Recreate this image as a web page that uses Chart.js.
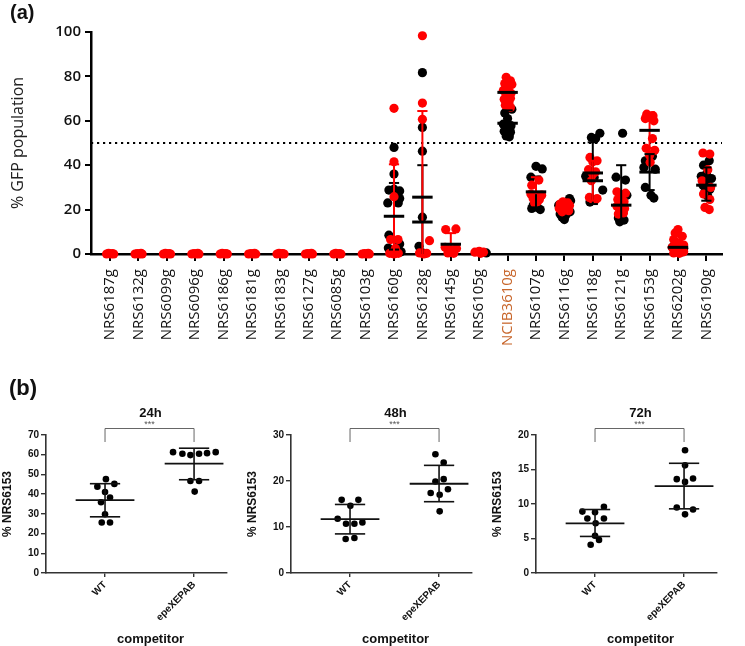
<!DOCTYPE html>
<html>
<head>
<meta charset="utf-8">
<script src="https://cdn.jsdelivr.net/npm/chart.js@4.4.1/dist/chart.umd.min.js"></script>
<style>
  html, body { margin: 0; padding: 0; background: #fff; }
  #wrap { position: relative; width: 745px; height: 646px; overflow: hidden; }
  .tag { position: absolute; font: bold 20px "Liberation Sans", Arial, sans-serif; color: #111; }
  canvas { position: absolute; }
</style>
</head>
<body>
<div id="wrap">
  <canvas id="cTop" width="745" height="375" style="left:0;top:0"></canvas>
  <canvas id="c24" width="245" height="256" style="left:0;top:390px"></canvas>
  <canvas id="c48" width="245" height="256" style="left:245px;top:390px"></canvas>
  <canvas id="c72" width="255" height="256" style="left:490px;top:390px"></canvas>
  <div class="tag" style="left:10px;top:1px">(a)</div>
  <div class="tag" style="left:9px;top:375px;font-size:22px">(b)</div>
</div>
<script>
// ---- (a) GFP population per strain ----
const strains = ['NRS6187g','NRS6132g','NRS6099g','NRS6096g','NRS6186g','NRS6181g','NRS6183g',
  'NRS6127g','NRS6085g','NRS6103g','NRS6160g','NRS6128g','NRS6145g','NRS6105g','NCIB3610g',
  'NRS6107g','NRS6116g','NRS6118g','NRS6121g','NRS6153g','NRS6202g','NRS6190g'];
const refStrain = 'NCIB3610g';
const gfpTicks = [0, 20, 40, 60, 80, 100];
const cutoff = 50;

// dots: [jitter, % GFP]
const redDots = [
  [[-0.12,0],[-0.05,0.3],[0.02,0],[0.08,0.2],[0.13,0]],
  [[-0.12,0],[-0.04,0.2],[0.03,0],[0.09,0.3],[0.13,0]],
  [[-0.12,0],[-0.05,0.3],[0.02,0],[0.08,0.2],[0.13,0]],
  [[-0.12,0],[-0.04,0.2],[0.03,0],[0.09,0.3],[0.13,0]],
  [[-0.12,0],[-0.05,0.3],[0.02,0],[0.08,0.2],[0.13,0]],
  [[-0.12,0],[-0.04,0.2],[0.03,0],[0.09,0.3],[0.13,0]],
  [[-0.12,0],[-0.05,0.3],[0.02,0],[0.08,0.2],[0.13,0]],
  [[-0.12,0],[-0.04,0.2],[0.03,0],[0.09,0.3],[0.13,0]],
  [[-0.12,0],[-0.05,0.3],[0.02,0],[0.08,0.2],[0.13,0]],
  [[-0.12,0],[-0.04,0.2],[0.03,0],[0.09,0.3],[0.13,0]],
  [[0,65.6],[0,41.5],[0,25.8],[-0.12,6.5],[0.14,6.5],[0.05,2.5],[-0.15,0.3],[0,0],[0.15,0.3]],
  [[0,98.3],[0,68],[0,60.7],[0.25,6],[-0.1,0.5],[0.05,0],[0.15,0.3]],
  [[-0.18,11],[0.18,11.3],[-0.2,3],[0,2],[0.2,2.5],[-0.1,0.5],[0.1,0.3]],
  [[-0.15,0.8],[0,1.2],[0.15,0.8],[0.05,0.3]],
  [[-0.05,79.6],[0.1,78],[-0.1,76.8],[0.15,76.4],[0.02,75],[-0.15,73.7],[0.12,72.4],[-0.05,71.5],
   [0.1,70.2],[-0.12,69.7],[0.05,68],[-0.08,67],[0.1,66]],
  [[0.1,33.3],[-0.15,31],[-0.18,27],[0.2,26.5],[0,26],[-0.1,25],[0.12,24.5],[0.05,23.5],[-0.05,23]],
  [[-0.05,23.5],[0.12,23],[-0.15,22.5],[0.05,22],[0.18,21.8],[-0.1,21.5],[0.1,21],[-0.18,20.5],
   [0,20],[0.15,19.5],[-0.08,19]],
  [[-0.1,43.5],[0.15,42],[0,41.5],[-0.15,38],[0.1,37],[0,36],[-0.05,33],[-0.12,25.5],[0.15,25],
   [0,24.5],[0.08,24.3]],
  [[-0.15,28],[0.15,27.4],[0,25.6],[-0.12,24.5],[0.1,23.5],[0,22.5],[-0.15,21.5],[0.12,20.5],
   [-0.05,19.5],[0.08,18.5],[-0.1,18]],
  [[-0.1,63],[0.12,62.3],[0,61.5],[-0.15,61],[0.15,60],[0.1,52],[-0.12,47.6],[0.18,46.7],[0,44.5],[0.02,41.3]],
  [[0,11],[-0.1,9.5],[0.15,8],[-0.15,6.5],[0.05,5],[0.2,4],[-0.2,3],[0.1,2],[-0.05,1.5],[0.2,1],
   [-0.15,0.5],[0.05,0.3]],
  [[-0.12,45.5],[0.12,45],[0.05,38],[-0.15,33],[0.15,30],[-0.1,27],[0.12,24.5],[-0.05,21],[0.1,20]]
];
const blackDots = [
  [],[],[],[],[],[],[],[],[],[],
  [[0,48],[0,36],[-0.18,28.8],[0,29.2],[0.2,28.4],[0.2,25],[-0.22,23],[0.15,23],[-0.18,8.5],
   [0.2,4.5],[-0.2,2.7],[0.25,1]],
  [[0,81.7],[0,57],[0,46.3],[0,16.6],[-0.12,3.5],[0,0.5]],
  [],
  [[0.25,0.5]],
  [[0.15,65.2],[-0.1,63.5],[0,61],[-0.15,58.5],[0.12,57.8],[-0.05,57],[0.08,56],[-0.12,55.3],
   [0.1,54.8],[0,54],[-0.05,53.2],[0.06,52.8]],
  [[0,39.5],[0.22,38.3],[-0.18,34.6],[-0.1,22],[0.05,21],[-0.15,20.5],[0.15,20]],
  [[0.18,25],[0.22,24],[-0.2,22],[0.2,19],[-0.15,18],[0.05,17.5],[-0.08,16.5],[0,15.5]],
  [[0.25,54.4],[-0.05,52.5],[0.1,52],[-0.25,35],[0.05,34.5],[0.35,28.8],[-0.1,23.4]],
  [[0.05,54.4],[-0.18,34.6],[0.15,33.3],[0.2,26.5],[-0.1,16.2],[0.1,15.3],[-0.05,14.5]],
  [[0.1,44],[-0.15,42],[-0.2,39],[0.2,38.2],[-0.15,30],[0.05,26.5],[0.15,25.2]],
  [[-0.1,5],[0.1,4],[0,3.5],[-0.2,3],[0.2,2.5],[0.05,2],[-0.1,1.5],[0.15,1]],
  [[0.1,42],[-0.1,40],[0,36],[-0.18,35],[0.18,34],[0,32],[-0.12,31],[0.12,29],[-0.05,28],[0.05,26]]
];
// mean and error-bar ends as drawn
const _ = null;
const redMean  = [_,_,_,_,_,_,_,_,_,_, 17, 25.6, 4.4, _, 72.8, 28, _, 33, 22, 55.7, _, _];
const redLo    = [_,_,_,_,_,_,_,_,_,_, 0, 0, 0, _, _, 27.4, _, 24, _, 47.7, _, _];
const redHi    = [_,_,_,_,_,_,_,_,_,_, 40.4, 64.4, 9.4, _, _, 34.6, _, 42, _, 63.8, _, _];
const blackMean = [_,_,_,_,_,_,_,_,_,_, _, 14.4, _, _, 58.9, _, _, 36.5, _, 36.9, 3, 31];
const blackLo   = [_,_,_,_,_,_,_,_,_,_, 2, 0, _, _, 53, 21, _, 22.5, 14.5, 28.8, _, 24];
const blackHi   = [_,_,_,_,_,_,_,_,_,_, 32, 40, _, _, 64.7, 34.9, _, 50.3, 40, 45, _, 39];

// ---- (b) competition assays ----
const competitors = ['WT', 'epeXEPAB'];
const timepoints = ['24h', '48h', '72h'];
const wtDots = [
  [[0.01,47.6],[0.105,45.2],[-0.086,43.8],[0,41.1],[0.056,38.3],[-0.045,35.9],[0,29.8],[-0.037,25.6],[0.056,25.6]],
  [[-0.094,15.9],[0.094,15.9],[0.004,14.6],[-0.139,11.8],[-0.045,10.7],[0.049,10.7],[0.139,11.0],[-0.049,7.4],[0.049,7.6]],
  [[0.1,9.6],[-0.142,8.9],[0,8.8],[-0.086,7.9],[0.1,7.9],[0.007,7.2],[0,5.4],[0.045,4.8],[-0.049,4.1]]
];
const epeDots = [
  [[-0.236,61.3],[-0.131,60.5],[-0.041,59.8],[0.056,60.5],[0.146,60.8],[0.243,61.3],[-0.041,46.7],[0.056,46.7],[0.007,41.3]],
  [[-0.041,25.8],[0.052,24.0],[-0.041,19.9],[0.052,20.4],[0.1,18.2],[-0.094,17.4],[0.007,17.0],[0.007,13.4]],
  [[0.011,17.8],[0.011,15.6],[-0.082,13.6],[0.101,13.7],[0.011,13.2],[-0.082,9.5],[0.101,9.2],[0.011,8.5]]
];
const wtMean = [37, 11.7, 7.2],   wtLo = [28.5, 8.5, 5.3],   wtHi = [45.3, 14.9, 9.2];
const epeMean = [55.5, 19.4, 12.6], epeLo = [47.3, 15.5, 9.3], epeHi = [63.3, 23.4, 15.9];
const yMaxB = [70, 30, 20];
const yStepB = [10, 10, 5];
const signif = ['***', '***', '***'];

// mean bar + SD whiskers
const errorBars = {
  id: 'errorBars',
  afterDatasetsDraw(chart, args, o) {
    if (!o.pos) return;
    const { ctx, scales: { x, y } } = chart;
    const px = v => x.getPixelForValue(v);
    const py = v => y.getPixelForValue(Math.max(v, y.min));
    const line = (x0, y0, x1, y1) => { ctx.beginPath(); ctx.moveTo(x0, y0); ctx.lineTo(x1, y1); ctx.stroke(); };
    ctx.save();
    o.whiskers.forEach(w => {
      ctx.strokeStyle = w.color; ctx.lineWidth = o.lineWidth;
      o.pos.forEach((p, i) => {
        if (w.lo[i] == null || w.hi[i] == null) return;
        const top = py(w.hi[i]), bot = py(w.lo[i]);
        line(px(p), top, px(p), bot);
        line(px(p - o.cap), top, px(p + o.cap), top);
        if (w.lo[i] > y.min) line(px(p - o.cap), bot, px(p + o.cap), bot);
      });
    });
    ctx.strokeStyle = o.barColor; ctx.lineWidth = o.barWidth;
    o.means.forEach(m => o.pos.forEach((p, i) => {
      if (m[i] == null) return;
      line(px(p - o.bar), py(m[i]), px(p + o.bar), py(m[i]));
    }));
    ctx.restore();
  }
};

// title, significance bracket and x title for the (b) panels
const annot = {
  id: 'annot',
  afterDraw(chart, args, o) {
    if (!o.title) return;
    const { ctx, chartArea: a, scales: { x } } = chart;
    const x1 = x.getPixelForValue(1), x2 = x.getPixelForValue(2), cx = (x1 + x2) / 2;
    ctx.save();
    ctx.fillStyle = '#111';
    ctx.textAlign = 'center'; ctx.textBaseline = 'middle';
    ctx.font = 'bold 13px "Liberation Sans", Arial, sans-serif';
    ctx.fillText(o.title, cx + 1, a.top - 22);
    ctx.strokeStyle = '#666'; ctx.lineWidth = 1;
    ctx.beginPath();
    ctx.moveTo(x1, a.top + 7); ctx.lineTo(x1, a.top - 6.5); ctx.lineTo(x2, a.top - 6.5); ctx.lineTo(x2, a.top + 7);
    ctx.stroke();
    ctx.fillStyle = '#555';
    ctx.font = '9px "Liberation Sans", Arial, sans-serif';
    ctx.fillText(o.sig, cx, a.top - 10);
    ctx.fillStyle = '#111';
    ctx.font = 'bold 13px "Liberation Sans", Arial, sans-serif';
    ctx.fillText(o.xTitle, cx + 1, chart.height - 7);
    ctx.restore();
  }
};
Chart.register(errorBars, annot);

const toPts = groups => groups.flatMap((g, i) => g.map(([dx, v]) => ({ x: i + dx, y: v })));

// ---- top chart ----
const xMinA = -0.67, xMaxA = 21.55;
new Chart(document.getElementById('cTop'), {
  type: 'scatter',
  data: {
    datasets: [
      { data: toPts(redDots), backgroundColor: '#ff0000', pointRadius: 4.6, borderWidth: 0, clip: false },
      { data: toPts(blackDots), backgroundColor: '#000', pointRadius: 4.6, borderWidth: 0, clip: false },
      { type: 'line', data: [{ x: xMinA, y: cutoff }, { x: xMaxA, y: cutoff }], borderColor: '#000',
        borderWidth: 2.2, borderDash: [2.2, 3.8], pointRadius: 0, clip: false }
    ]
  },
  options: {
    responsive: false, animation: false, events: [],
    layout: { padding: { top: 32, right: 23, left: 0, bottom: 0 } },
    plugins: {
      legend: { display: false }, tooltip: { enabled: false },
      errorBars: {
        pos: strains.map((s, i) => i),
        whiskers: [{ lo: blackLo, hi: blackHi, color: '#000' }, { lo: redLo, hi: redHi, color: '#ff0000' }],
        means: [blackMean, redMean],
        cap: 0.18, bar: 0.36, lineWidth: 2, barWidth: 3, barColor: '#000'
      }
    },
    scales: {
      x: {
        type: 'linear', min: xMinA, max: xMaxA,
        afterBuildTicks: s => { s.ticks = strains.map((n, i) => ({ value: i })); },
        afterFit: s => { s.height = 121; },
        border: { display: true, color: '#000', width: 2.5 },
        grid: { display: true, drawOnChartArea: false, drawTicks: true, tickLength: 7, color: '#000', lineWidth: 2 },
        ticks: {
          autoSkip: false, minRotation: 90, maxRotation: 90, padding: 8,
          callback: v => strains[v] ?? '',
          color: c => strains[c.tick.value] === refStrain ? '#c8662b' : '#111',
          font: { family: '"Open Sans", sans-serif', size: 15 }
        }
      },
      y: {
        min: 0, max: 100,
        afterBuildTicks: s => { s.ticks = gfpTicks.map(v => ({ value: v })); },
        afterFit: s => { s.width = 91; },
        border: { display: true, color: '#000', width: 2.5 },
        grid: { display: true, drawOnChartArea: false, drawTicks: true, tickLength: 6, color: '#000', lineWidth: 2 },
        ticks: { padding: 4, color: '#111', font: { family: '"Open Sans", sans-serif', size: 15, weight: '600' } },
        title: { display: true, text: '% GFP population', color: '#222', padding: { top: 9, bottom: 0 },
          font: { family: '"Open Sans", sans-serif', size: 16 } }
      }
    }
  }
});

// ---- bottom charts ----
['c24', 'c48', 'c72'].forEach((id, k) => {
  const pts = (dots, c) => dots.map(([dx, v]) => ({ x: c + dx, y: v }));
  const canvas = document.getElementById(id);
  new Chart(canvas, {
    type: 'scatter',
    data: {
      datasets: [
        { data: pts(wtDots[k], 1).concat(pts(epeDots[k], 2)), backgroundColor: '#000', pointRadius: 3.3, borderWidth: 0, clip: false }
      ]
    },
    options: {
      responsive: false, animation: false, events: [],
      layout: { padding: { top: 45, right: canvas.width - 227, left: 0, bottom: 0 } },
      plugins: {
        legend: { display: false }, tooltip: { enabled: false },
        errorBars: {
          pos: [1, 2],
          whiskers: [{ lo: [wtLo[k], epeLo[k]], hi: [wtHi[k], epeHi[k]], color: '#111' }],
          means: [[wtMean[k], epeMean[k]]],
          cap: 0.17, bar: 0.33, lineWidth: 1.6, barWidth: 1.8, barColor: '#111'
        },
        annot: { title: timepoints[k], sig: signif[k], xTitle: 'competitor' }
      },
      scales: {
        x: {
          type: 'linear', min: 0.337, max: 2.37,
          afterBuildTicks: s => { s.ticks = competitors.map((n, i) => ({ value: i + 1 })); },
          afterFit: s => { s.height = 256 - 45 - 138; },
          border: { display: true, color: '#333', width: 1.6 },
          grid: { display: true, drawOnChartArea: false, drawTicks: true, tickLength: 4, color: '#333', lineWidth: 1.4 },
          ticks: {
            autoSkip: false, minRotation: 45, maxRotation: 45, padding: 2, color: '#111',
            callback: v => competitors[v - 1] ?? '',
            font: { family: '"Liberation Sans", Arial, sans-serif', size: 10, weight: 'bold' }
          }
        },
        y: {
          min: 0, max: yMaxB[k],
          ticks: { stepSize: yStepB[k], padding: 2, color: '#111',
            font: { family: '"Liberation Sans", Arial, sans-serif', size: 10, weight: 'bold' } },
          afterFit: s => { s.width = 46; },
          border: { display: true, color: '#333', width: 1.6 },
          grid: { display: true, drawOnChartArea: false, drawTicks: true, tickLength: 5, color: '#333', lineWidth: 1.4 },
          title: { display: true, text: '% NRS6153', color: '#111', padding: { top: 0, bottom: 0 },
            font: { family: '"Liberation Sans", Arial, sans-serif', size: 12, weight: 'bold' } }
        }
      }
    }
  });
});
</script>
</body>
</html>
